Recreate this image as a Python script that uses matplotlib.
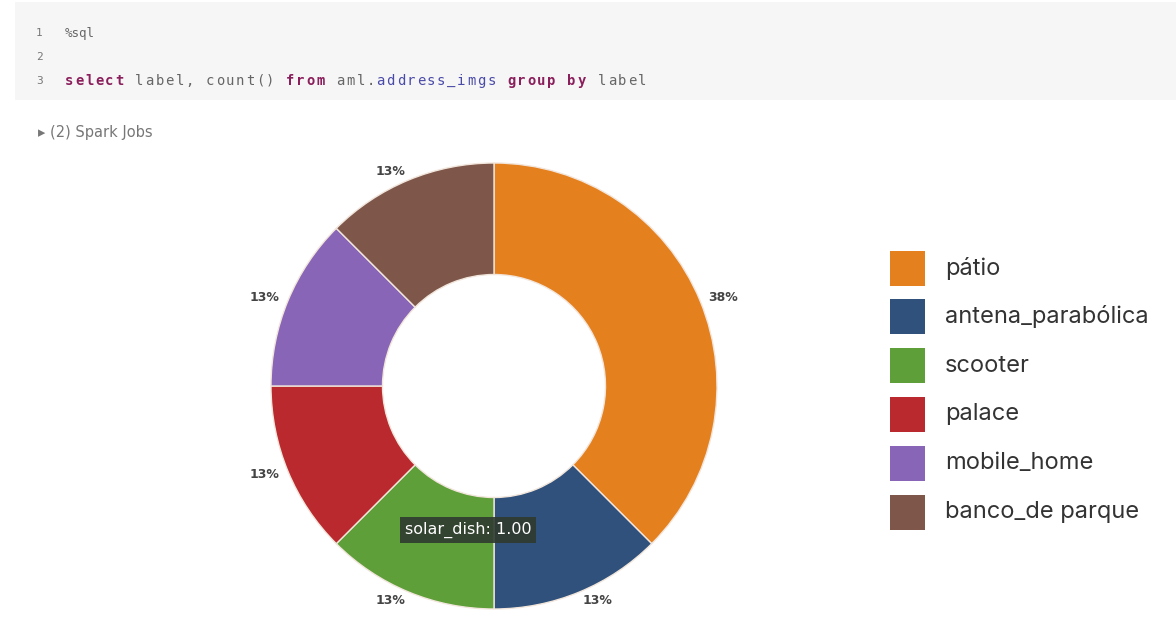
import matplotlib.pyplot as plt
from matplotlib.patches import Rectangle

labels = ["pátio", "antena_parabólica", "scooter", "palace", "mobile_home", "banco_de parque"]
counts = [3, 1, 1, 1, 1, 1]
colors = ["#E5801F", "#2F517B", "#5E9F3A", "#B9292D", "#8865B6", "#7E574A"]

code_lines = ["%sql", "", "select label, count() from aml.address_imgs group by label"]
tooltip = "solar_dish: 1.00"

W, H = 1176, 625
fig = plt.figure(figsize=(W / 100, H / 100), dpi=100)

# background axes in pixel coordinates
bg = fig.add_axes([0, 0, 1, 1])
bg.set_xlim(0, W)
bg.set_ylim(H, 0)
bg.axis("off")

# notebook code cell
bg.add_patch(Rectangle((15, 2), W - 15, 98, facecolor="#f6f6f6", edgecolor="none"))
for i, y in enumerate([33, 57, 81]):
    bg.text(36, y, str(i + 1), fontsize=8, color="#777777", va="center", family="DejaVu Sans Mono")
bg.text(65, 33, code_lines[0], fontsize=9, color="#666666", va="center", family="DejaVu Sans Mono")

cw = 10.05
tokens = [("select", "#8a1f5c", "bold"), (" label, count() ", "#666666", "normal"),
          ("from", "#8a1f5c", "bold"), (" aml.", "#666666", "normal"),
          ("address_imgs", "#4a4aa8", "normal"), (" ", "#666666", "normal"),
          ("group by", "#8a1f5c", "bold"), (" label", "#666666", "normal")]
pos = 0
for tok, c, w in tokens:
    for j, ch in enumerate(tok):
        if ch != " ":
            bg.text(65 + (pos + j) * cw, 81, ch, fontsize=10, color=c, fontweight=w,
                    va="center", family="DejaVu Sans Mono")
    pos += len(tok)

bg.text(38, 133, "▸ (2) Spark Jobs", fontsize=10.5, color="#777777", va="center")

# donut
R = 223
cx, cy = 494, 386
side = 470
ax = fig.add_axes([(cx - side / 2) / W, (H - cy - side / 2) / H, side / W, side / H])
total = sum(counts)
pct_labels = ["%d%%" % int(100 * c / total + 0.5) for c in counts]
wedges, texts = ax.pie(counts, colors=colors, labels=pct_labels, startangle=90, counterclock=False,
                       labeldistance=1.04, radius=1,
                       wedgeprops=dict(width=0.5, edgecolor="#f2e6dc", linewidth=1),
                       textprops=dict(fontsize=9, color="#444444", fontweight="bold"))
lim = side / 2 / R
ax.set_xlim(-lim, lim)
ax.set_ylim(-lim, lim)
ax.set_aspect("equal")

# hover tooltip
fig.text(468 / W, 1 - 530 / H, tooltip, fontsize=11.5, color="white", ha="center", va="center",
         zorder=10,
         bbox=dict(boxstyle="square,pad=0.3", facecolor="#2f3a2f", edgecolor="none", alpha=0.9))

# legend
for i, (lab, c) in enumerate(zip(labels, colors)):
    yc = 268 + i * 48.8
    bg.add_patch(Rectangle((890, yc - 17.5), 35, 35, facecolor=c, edgecolor="none"))
    bg.text(945, yc, lab, fontsize=17, color="#333333", va="center", family="Inter")

fig.savefig("out.png", dpi=100)
